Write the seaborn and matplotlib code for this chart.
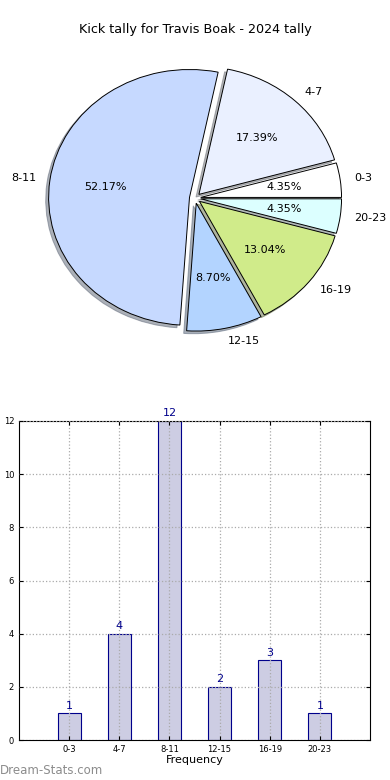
import pandas as pd
import seaborn as sns
import matplotlib.pyplot as plt

# intervalos y conteos
intervals = ["0-3", "4-7", "8-11", "12-15", "16-19", "20-23"]
counts = [1, 4, 12, 2, 3, 1]
pie_colors = ["#ffffff", "#eaf0ff", "#c6d9ff", "#b3d4ff", "#d0eb8a", "#dcffff"]

title = "Kick tally for Travis Boak - 2024 tally"

sns.set_style("white")
plt.rcParams["font.family"] = ["DejaVu Sans"]
plt.rcParams["text.color"] = "black"
plt.rcParams["xtick.color"] = "black"
plt.rcParams["ytick.color"] = "black"
plt.rcParams["axes.labelcolor"] = "black"

df = pd.DataFrame({"interval": intervals, "count": counts})

fig = plt.figure(figsize=(3.9, 7.8), dpi=100)

# pie de arriba (un poco ovalado como el original)
ax1 = fig.add_axes([0.0487, 0.541, 0.903, 0.41])
ax1.pie(df["count"], labels=df["interval"], colors=pie_colors,
        explode=[0.04] * len(intervals), autopct="%1.2f%%",
        shadow={"ox": -0.015, "oy": -0.015, "shade": 0.55},
        startangle=0, counterclock=True,
        wedgeprops={"edgecolor": "black", "linewidth": 0.7},
        textprops={"fontsize": 8})
ax1.set_aspect("auto")
ax1.set_xlim(-1.25, 1.25)
ax1.set_ylim(-1.25, 1.25)
fig.text(0.5, 1 - 30 / 780, title, ha="center", va="center", fontsize=9.2)

# barras de abajo
ax2 = fig.add_axes([19 / 390, 40 / 780, 351 / 390, 319 / 780])
sns.barplot(data=df, x="interval", y="count", ax=ax2, width=0.46,
            color="#cdcde3", edgecolor="#00008b", linewidth=0.8, saturation=1)
for i, c in enumerate(counts):
    ax2.text(i, c + 0.1, str(c), ha="center", va="bottom", fontsize=8,
             color="#00008b")
ax2.set_xlim(-1, 6)
ax2.set_ylim(0, 12)
ax2.set_yticks(range(0, 13, 2))
ax2.grid(True, linestyle=":", color="#aaaaaa", linewidth=0.9)
ax2.set_axisbelow(False)
for s in ax2.spines.values():
    s.set_visible(True)
    s.set_color("black")
    s.set_linewidth(0.8)
ax2.tick_params(axis="both", labelsize=6, direction="in", length=3,
                top=True, right=True, bottom=True, left=True)
ax2.set_xlabel("Frequency", fontsize=8, labelpad=1)
ax2.set_ylabel("Stat Interval Tally", fontsize=8, labelpad=8)

fig.text(0.0, 10 / 780, "Dream-Stats.com", ha="left", va="center",
         fontsize=8.5, color="#8c8c8c")

fig.savefig("out.png", dpi=100)
